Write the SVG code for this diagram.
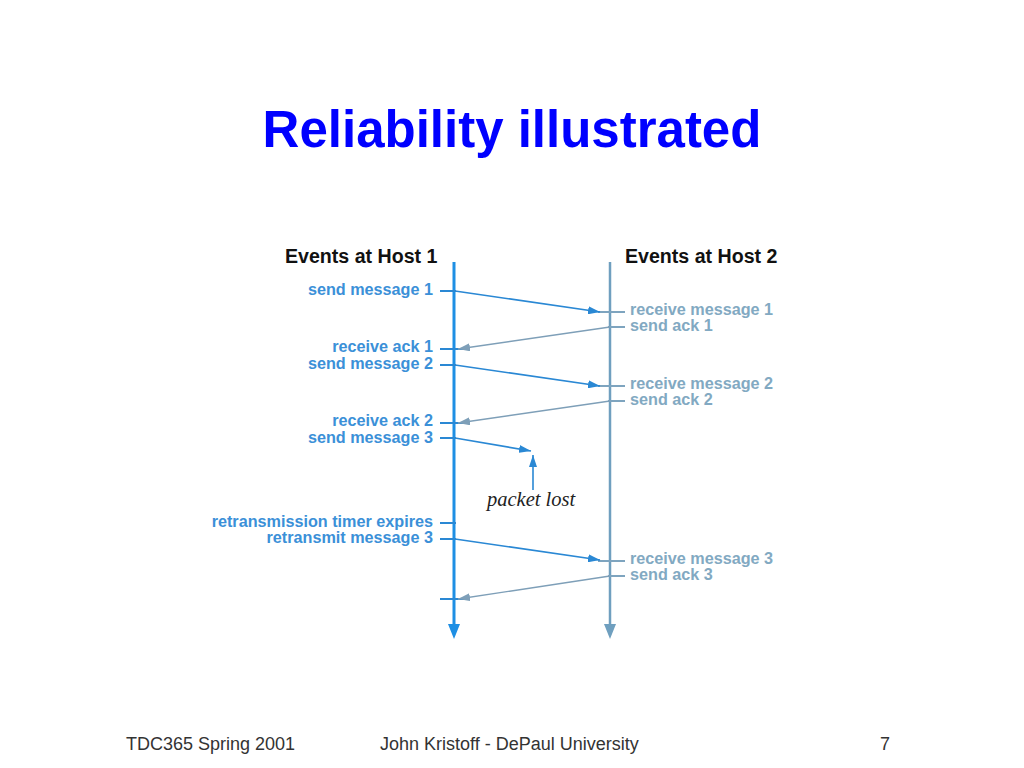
<svg xmlns="http://www.w3.org/2000/svg" width="1024" height="768" viewBox="0 0 1024 768">
<style>
.title{font-family:"Liberation Sans",Arial,sans-serif;font-weight:bold;font-size:51px;fill:#0000ff}
.foot{font-family:"Liberation Sans",Arial,sans-serif;font-size:18px;fill:#333}
.hdr{font-family:"Liberation Sans",Arial,sans-serif;font-weight:bold;font-size:19.6px;fill:#111}
.l1{font-family:"Liberation Sans",Arial,sans-serif;font-weight:bold;font-size:16.2px;fill:#3b90d8;text-anchor:end}
.l2{font-family:"Liberation Sans",Arial,sans-serif;font-weight:bold;font-size:16.2px;fill:#82a9c2}
.lost{font-family:"Liberation Serif","Times New Roman",serif;font-style:italic;font-size:20.5px;fill:#222}
.msg{stroke:#2a88d4;stroke-width:1.6;fill:none}
.ack{stroke:#7e9fb8;stroke-width:1.4;fill:none}
.t1{stroke:#2a88d4;stroke-width:2}
.t2{stroke:#7ea4bf;stroke-width:2}
</style>
<defs>
<marker id="am" viewBox="0 0 12 8" refX="12" refY="4" markerWidth="12" markerHeight="8" markerUnits="userSpaceOnUse" orient="auto"><path d="M0,0 L12,4 L0,8 Z" fill="#2a88d4"/></marker>
<marker id="aa" viewBox="0 0 12 8" refX="12" refY="4" markerWidth="12" markerHeight="8" markerUnits="userSpaceOnUse" orient="auto"><path d="M0,0 L12,4 L0,8 Z" fill="#7e9fb8"/></marker>
</defs>
<rect width="1024" height="768" fill="#fff"/>
<text class="title" x="512" y="147" text-anchor="middle">Reliability illustrated</text>

<g id="host1">
<text class="hdr" x="285" y="263">Events at Host 1</text>
<line x1="454" y1="262" x2="454" y2="626" stroke="#1e8fe4" stroke-width="3"/>
<path d="M448,624 L460,624 L454,639 Z" fill="#1e8fe4"/>
</g>
<g id="host2">
<text class="hdr" x="625" y="263">Events at Host 2</text>
<line x1="610" y1="262" x2="610" y2="626" stroke="#6f9fbf" stroke-width="2.5"/>
<path d="M604,624 L616,624 L610,639 Z" fill="#6f9fbf"/>
</g>

<g id="labels1">
<text class="l1" x="433" y="295">send message 1</text>
<text class="l1" x="433" y="352">receive ack 1</text>
<text class="l1" x="433" y="369">send message 2</text>
<text class="l1" x="433" y="426">receive ack 2</text>
<text class="l1" x="433" y="443">send message 3</text>
<text class="l1" x="433" y="527">retransmission timer expires</text>
<text class="l1" x="433" y="543">retransmit message 3</text>
</g>
<g id="labels2">
<text class="l2" x="630" y="315">receive message 1</text>
<text class="l2" x="630" y="331">send ack 1</text>
<text class="l2" x="630" y="389">receive message 2</text>
<text class="l2" x="630" y="405">send ack 2</text>
<text class="l2" x="630" y="564">receive message 3</text>
<text class="l2" x="630" y="580">send ack 3</text>
</g>

<g id="ticks">
<line class="t1" x1="440" y1="291" x2="456" y2="291"/>
<line class="t1" x1="440" y1="349" x2="468" y2="349"/>
<line class="t1" x1="440" y1="365" x2="456" y2="365"/>
<line class="t1" x1="440" y1="423" x2="468" y2="423"/>
<line class="t1" x1="440" y1="438" x2="456" y2="438"/>
<line class="t1" x1="440" y1="523" x2="456" y2="523"/>
<line class="t1" x1="440" y1="539" x2="456" y2="539"/>
<line class="t1" x1="440" y1="599" x2="468" y2="599"/>
<line class="t2" x1="598" y1="312" x2="625" y2="312"/>
<line class="t2" x1="608" y1="327" x2="625" y2="327"/>
<line class="t2" x1="598" y1="386" x2="625" y2="386"/>
<line class="t2" x1="608" y1="401" x2="625" y2="401"/>
<line class="t2" x1="598" y1="561" x2="625" y2="561"/>
<line class="t2" x1="608" y1="576" x2="625" y2="576"/>
</g>

<g id="connectors">
<line class="msg" x1="455" y1="291" x2="600" y2="312" marker-end="url(#am)"/>
<line class="ack" x1="610" y1="327" x2="458" y2="349" marker-end="url(#aa)"/>
<line class="msg" x1="455" y1="365" x2="600" y2="386" marker-end="url(#am)"/>
<line class="ack" x1="610" y1="401" x2="458" y2="423" marker-end="url(#aa)"/>
<line class="msg" x1="455" y1="438" x2="531" y2="451" marker-end="url(#am)"/>
<line class="msg" x1="533" y1="490" x2="533" y2="455" stroke="#6a8aa0" marker-end="url(#am)"/>
<line class="msg" x1="455" y1="539" x2="600" y2="560" marker-end="url(#am)"/>
<line class="ack" x1="610" y1="576" x2="458" y2="599" marker-end="url(#aa)"/>
</g>

<g id="lost">
<text class="lost" x="487" y="506">packet lost</text>
</g>

<g id="footer">
<text class="foot" x="126" y="750">TDC365 Spring 2001</text>
<text class="foot" x="380" y="750">John Kristoff - DePaul University</text>
<text class="foot" x="880" y="750">7</text>
</g>
</svg>
